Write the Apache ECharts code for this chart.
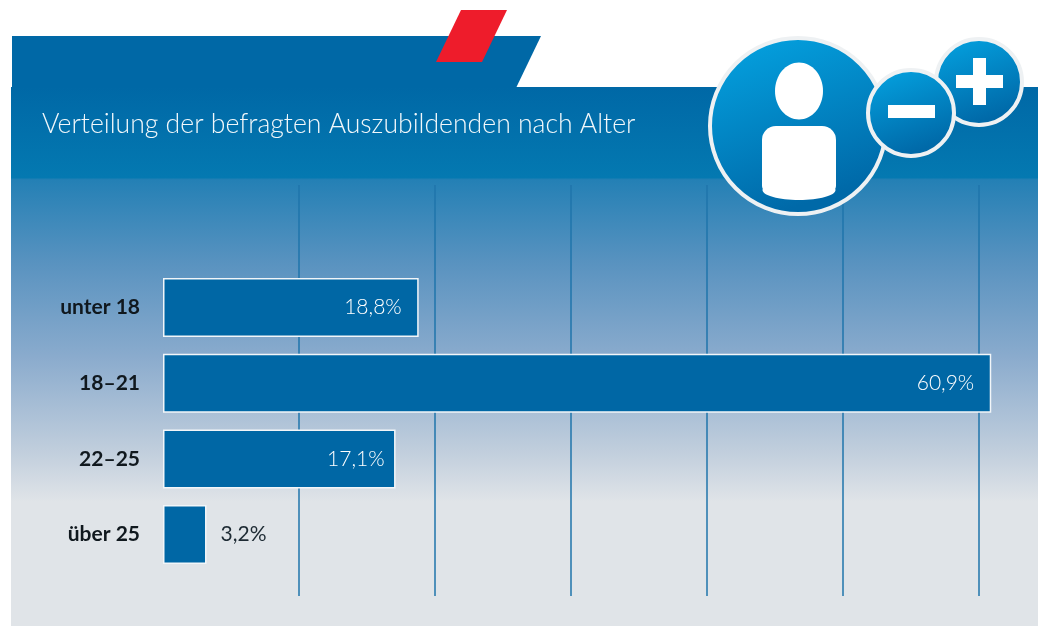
<!DOCTYPE html>
<html>
<head>
<meta charset="utf-8">
<title>Verteilung der befragten Auszubildenden nach Alter</title>
<style>
	html, body { margin: 0; padding: 0; background: #fff; }
	#chart { width: 1046px; height: 626px; }
</style>
</head>
<body>
<div id="chart"></div>
<script src="https://cdn.jsdelivr.net/npm/echarts@6/dist/echarts.min.js"></script>
<script>
var titleText = 'Verteilung der befragten Auszubildenden nach Alter';
var categories = ['unter 18', '18–21', '22–25', 'über 25'];
var shares = [18.8, 60.9, 17.1, 3.2];
var axisMax = 61;
var axisStep = 10;

var fontName = 'Lato, "Noto Sans", sans-serif';

function fmt(v) {
	return String(v).replace('.', ',') + '%';
}

// small bars get the label outside, the 22-25 label sits a bit closer to its bar end
var barData = shares.map(function (v, i) {
	var small = v < 5;
	return {
		value: v,
		label: {
			position: small ? 'right' : 'insideRight',
			distance: small ? 14 : (i === 2 ? 11 : 17),
			color: small ? '#1d2a33' : '#fff',
			fontWeight: small ? 400 : 300
		}
	};
});

var iconFill = {
	type: 'linear', x: 0, y: 0, x2: 0.35, y2: 1,
	colorStops: [{ offset: 0, color: '#04a5e3' }, { offset: 1, color: '#0069a8' }]
};

function badge(cx, cy, r, z) {
	return {
		type: 'circle', z: z, silent: true,
		shape: { cx: cx, cy: cy, r: r },
		style: { fill: iconFill, stroke: '#eef1f3', lineWidth: 4 }
	};
}

function box(x, y, w, h, z) {
	return {
		type: 'rect', z: z, silent: true,
		shape: { x: x, y: y, width: w, height: h },
		style: { fill: '#fff' }
	};
}

var backdrop = [
	{
		type: 'polygon', z: -10, silent: true,
		shape: { points: [[12, 36], [541, 36], [516, 88], [12, 88]] },
		style: { fill: '#0068a6' }
	},
	{
		type: 'polygon', z: -9, silent: true,
		shape: { points: [[461, 10], [507, 10], [482, 62], [436, 62]] },
		style: { fill: '#ee1c2b' }
	},
	{
		type: 'rect', z: -10, silent: true,
		shape: { x: 11, y: 87, width: 1027, height: 539 },
		style: {
			fill: {
				type: 'linear', x: 0, y: 0, x2: 0, y2: 1,
				colorStops: [
					{ offset: 0, color: '#0068a6' },
					{ offset: 0.168, color: '#0479b1' },
					{ offset: 0.172, color: '#2480b5' },
					{ offset: 0.33, color: '#5a93c0' },
					{ offset: 0.5, color: '#8aabcd' },
					{ offset: 0.68, color: '#c2cfdd' },
					{ offset: 0.77, color: '#e0e4e8' },
					{ offset: 1, color: '#e0e4e8' }
				]
			}
		}
	}
];

var icons = [
	badge(798, 126, 88, 100),
	{
		type: 'ellipse', z: 101, silent: true,
		shape: { cx: 799, cy: 91, rx: 24, ry: 28.5 },
		style: { fill: '#fff' }
	},
	// body: rounded block with a slightly bulged bottom edge
	{
		type: 'rect', z: 101, silent: true,
		shape: { x: 762, y: 126, width: 74, height: 66, r: [14, 14, 6, 6] },
		style: { fill: '#fff' }
	},
	{
		type: 'ellipse', z: 101, silent: true,
		shape: { cx: 799, cy: 190, rx: 36.5, ry: 10 },
		style: { fill: '#fff' }
	},
	badge(979, 82, 43, 102),
	box(956, 75, 47, 13, 103),
	box(973, 58, 13, 47, 103),
	badge(911, 113, 43, 104),
	box(888, 105, 47, 13, 105)
];

var chart = echarts.init(document.getElementById('chart'), null, { renderer: 'canvas' });

chart.setOption({
	animation: false,
	backgroundColor: '#fff',
	title: {
		text: titleText,
		left: 42,
		top: 111,
		padding: 0,
		z: 20,
		textStyle: { color: '#f2f8fb', fontFamily: fontName, fontSize: 26.6, fontWeight: 300 }
	},
	// first grid only carries the long vertical lines, second one the bars
	grid: [
		{ left: 163, top: 185, width: 829.6, height: 411 },
		{ left: 163, top: 269.65, width: 829.6, height: 302.8 }
	],
	xAxis: [
		{
			type: 'value', gridIndex: 0, min: 0, max: axisMax, interval: axisStep,
			axisLine: { show: false }, axisTick: { show: false }, axisLabel: { show: false },
			splitLine: { show: true, showMinLine: false, showMaxLine: false, lineStyle: { color: '#1f74ab', width: 1.5 } }
		},
		{
			type: 'value', gridIndex: 1, min: 0, max: axisMax, interval: axisStep,
			axisLine: { show: false }, axisTick: { show: false }, axisLabel: { show: false },
			splitLine: { show: false }
		}
	],
	yAxis: [
		{ type: 'category', gridIndex: 0, show: false, data: categories, inverse: true },
		{
			type: 'category', gridIndex: 1, data: categories, inverse: true,
			axisLine: { show: false }, axisTick: { show: false },
			axisLabel: {
				margin: 23,
				color: '#10181e',
				fontFamily: fontName,
				fontSize: 21,
				fontWeight: 'bold'
			}
		}
	],
	series: [{
		type: 'bar',
		xAxisIndex: 1,
		yAxisIndex: 1,
		barWidth: 59,
		data: barData,
		itemStyle: { color: '#0067a5', borderColor: '#f2f6f9', borderWidth: 1.5 },
		label: {
			show: true,
			fontFamily: fontName,
			fontSize: 21,
			formatter: function (p) { return fmt(p.value); }
		}
	}],
	graphic: { elements: backdrop.concat(icons) }
});
</script>
</body>
</html>
